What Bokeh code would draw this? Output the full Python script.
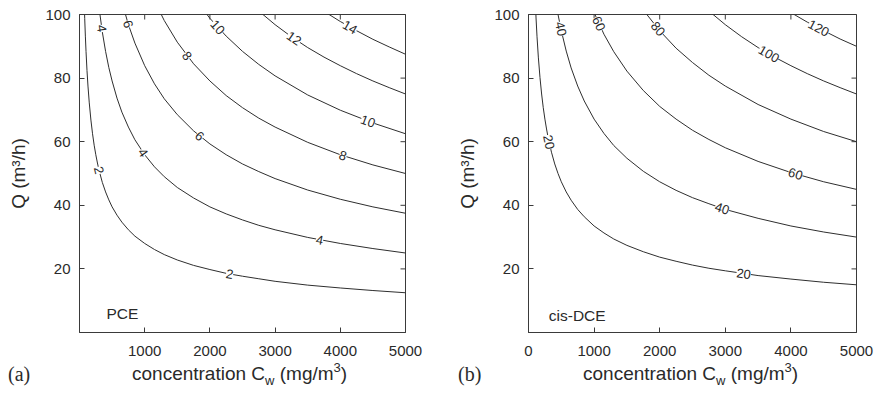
import math
from bokeh.plotting import figure
from bokeh.models import Range1d, FixedTicker, Label, Div
from bokeh.layouts import row, column
from bokeh.embed import file_html
from bokeh.resources import INLINE

# ---------------- data ----------------
# (a) PCE contour levels and digitised contour lines: C (mg/m3) -> Q (m3/h)
pce_levels = [2, 4, 6, 8, 10, 12, 14, 16]
pce_c2 = [60, 70, 80, 90, 100, 115, 130, 150, 175, 200, 225, 250, 275, 300, 350, 400, 450, 500, 575, 650,
          750, 850, 1000, 1150, 1300, 1500, 1750, 2000, 2250, 2500, 2750, 3000, 3500, 4000, 4500, 5000]
pce_q2 = [114.1, 105.6, 98.8, 93.2, 88.4, 82.4, 77.5, 72.2, 66.8, 62.5, 58.9, 55.9, 53.3, 51.0, 47.2, 44.2,
          41.7, 39.5, 36.9, 34.7, 32.3, 30.3, 28.0, 26.1, 24.5, 22.8, 21.1, 19.8, 18.6, 17.7, 16.9, 16.1,
          14.9, 14.0, 13.2, 12.5]
pce_c4 = [275, 300, 350, 400, 450, 500, 575, 650, 750, 850, 1000, 1150, 1300, 1500, 1750, 2000, 2250,
          2500, 2750, 3000, 3500, 4000, 4500, 5000]
pce_q4 = [106.6, 102.1, 94.5, 88.4, 83.3, 79.1, 73.7, 69.3, 64.6, 60.6, 55.9, 52.1, 49.0, 45.6, 42.3,
          39.5, 37.3, 35.4, 33.7, 32.3, 29.9, 28.0, 26.4, 25.0]
pce_c6 = [650, 750, 850, 1000, 1150, 1300, 1500, 1750, 2000, 2250, 2500, 2750, 3000, 3500, 4000, 4500, 5000]
pce_q6 = [104.0, 96.8, 91.0, 83.9, 78.2, 73.5, 68.5, 63.4, 59.3, 55.9, 53.0, 50.6, 48.4, 44.8, 41.9,
          39.5, 37.5]
pce_c8 = [1150, 1300, 1500, 1750, 2000, 2250, 2500, 2750, 3000, 3500, 4000, 4500, 5000]
pce_q8 = [104.3, 98.1, 91.3, 84.5, 79.1, 74.5, 70.7, 67.4, 64.6, 59.8, 55.9, 52.7, 50.0]
pce_c10 = [1750, 2000, 2250, 2500, 2750, 3000, 3500, 4000, 4500, 5000]
pce_q10 = [105.6, 98.8, 93.2, 88.4, 84.3, 80.7, 74.7, 69.9, 65.9, 62.5]
pce_c12 = [2500, 2750, 3000, 3250, 3500, 3750, 4000, 4250, 4500, 4750, 5000]
pce_q12 = [106.1, 101.1, 96.8, 93.0, 89.6, 86.6, 83.9, 81.4, 79.1, 77.0, 75.0]
pce_c14 = [3500, 3750, 4000, 4250, 4500, 4750, 5000]
pce_q14 = [104.6, 101.0, 97.8, 94.9, 92.2, 89.8, 87.5]
pce_c16 = [4750, 4900, 5000]
pce_q16 = [102.6, 101.0, 100.0]

pce_label_text = ["4", "6", "10", "8", "6", "4", "2", "12", "14", "10", "8", "4", "2"]
pce_label_c = [342, 747, 2119, 1650, 1842, 976, 300, 3290, 4150, 4424, 4041, 3682, 2303]
pce_label_q = [95.6, 97.0, 96.0, 87.0, 61.8, 56.6, 51.0, 92.5, 96.0, 66.4, 55.6, 29.1, 18.4]
pce_label_angle = [-81.7, -72.5, -47.9, -52.2, -39.3, -54.8, -76.5, -34.5, -29.5, -20.1, -18.6, -10.9, -11.0]

dce_levels = [20, 40, 60, 80, 100, 120]
dce_c20 = [100, 115, 130, 150, 175, 200, 225, 250, 275, 300, 350, 400, 450, 500, 575, 650, 750, 850,
           1000, 1150, 1300, 1500, 1750, 2000, 2250, 2500, 2750, 3000, 3500, 4000, 4500, 5000]
dce_q20 = [106.1, 98.9, 93.0, 86.6, 80.2, 75.0, 70.7, 67.1, 64.0, 61.2, 56.7, 53.0, 50.0, 47.4, 44.2,
           41.6, 38.7, 36.4, 33.5, 31.3, 29.4, 27.4, 25.4, 23.7, 22.4, 21.2, 20.2, 19.4, 17.9, 16.8,
           15.8, 15.0]
dce_c40 = [400, 450, 500, 575, 650, 750, 850, 1000, 1150, 1300, 1500, 1750, 2000, 2250, 2500, 2750,
           3000, 3500, 4000, 4500, 5000]
dce_q40 = [106.1, 100.0, 94.9, 88.5, 83.2, 77.5, 72.8, 67.1, 62.6, 58.8, 54.8, 50.7, 47.4, 44.7, 42.4,
           40.5, 38.7, 35.9, 33.5, 31.6, 30.0]
dce_c60 = [850, 1000, 1150, 1300, 1500, 1750, 2000, 2250, 2500, 2750, 3000, 3500, 4000, 4500, 5000]
dce_q60 = [109.1, 100.6, 93.8, 88.3, 82.2, 76.1, 71.1, 67.1, 63.6, 60.7, 58.1, 53.8, 50.3, 47.4, 45.0]
dce_c80 = [1500, 1750, 2000, 2250, 2500, 2750, 3000, 3500, 4000, 4500, 5000]
dce_q80 = [109.5, 101.4, 94.9, 89.4, 84.9, 80.9, 77.5, 71.7, 67.1, 63.2, 60.0]
dce_c100 = [2500, 2750, 3000, 3250, 3500, 3750, 4000, 4250, 4500, 4750, 5000]
dce_q100 = [106.1, 101.1, 96.8, 93.0, 89.6, 86.6, 83.9, 81.4, 79.1, 77.0, 75.0]
dce_c120 = [3500, 3750, 4000, 4250, 4500, 4750, 5000]
dce_q120 = [107.6, 103.9, 100.6, 97.6, 94.9, 92.3, 90.0]

dce_label_text = ["40", "60", "80", "20", "120", "100", "60", "40", "20"]
dce_label_c = [493, 1074, 1974, 313, 4425, 3663, 4070, 2952, 3281]
dce_label_q = [95.5, 97.1, 95.5, 59.9, 95.7, 87.6, 49.9, 39.0, 18.5]
dce_label_angle = [-78.0, -65.5, -49.5, -77.8, -27.7, -30.1, -16.6, -17.8, -7.8]

pce_xticks = [1000, 2000, 3000, 4000, 5000]
dce_xticks = [0, 1000, 2000, 3000, 4000, 5000]
yticks = [20, 40, 60, 80, 100]

# ---------------- styling ----------------
FONT = "Liberation Sans"
TXT = "#2a2a2a"
LINE = "#2e2e2e"
AX = "#3a3a3a"


def make_panel(width, bl, br, xticks, lines, labels, name, name_pos):
    p = figure(width=width, height=360,
               x_range=Range1d(0, 5000), y_range=Range1d(0, 100),
               output_backend="svg", toolbar_location=None,
               min_border_left=bl, min_border_right=br,
               min_border_top=14, min_border_bottom=28)
    p.grid.visible = False
    p.background_fill_color = "white"
    p.border_fill_color = "white"
    p.outline_line_color = AX
    p.outline_line_width = 1

    for ax, ticks in ((p.xaxis[0], xticks), (p.yaxis[0], yticks)):
        ax.ticker = FixedTicker(ticks=ticks)
        ax.major_tick_in = 5
        ax.major_tick_out = 0
        ax.minor_tick_line_color = None
        ax.major_tick_line_color = AX
        ax.axis_line_color = AX
        ax.major_label_text_font = FONT
        ax.major_label_text_font_size = "15px"
        ax.major_label_text_color = TXT
    p.xaxis.major_label_standoff = 13
    p.yaxis.major_label_standoff = 9
    p.yaxis.axis_label = "Q (m³/h)"
    p.yaxis.axis_label_text_font = FONT
    p.yaxis.axis_label_text_font_size = "19px"
    p.yaxis.axis_label_text_font_style = "normal"
    p.yaxis.axis_label_text_color = TXT
    p.yaxis.axis_label_standoff = 13

    # mirrored inward ticks on top and right (clipped to the frame)
    p.scatter(x=xticks, y=[100] * len(xticks), marker="dash", angle=math.pi / 2,
              size=10, line_color=AX, line_width=1)
    p.scatter(x=[5000] * len(yticks), y=yticks, marker="dash", size=10,
              line_color=AX, line_width=1)

    for cs, qs in lines:
        p.line(cs, qs, line_color=LINE, line_width=1)

    for t, c, q, a in zip(*labels):
        p.add_layout(Label(x=c, y=q, text=t, angle=math.radians(a),
                           text_align="center", text_baseline="middle",
                           text_font=FONT, text_font_size="13px", text_color=TXT,
                           background_fill_color="white", background_fill_alpha=1.0))

    p.add_layout(Label(x=name_pos[0], y=name_pos[1], text=name, text_font=FONT,
                       text_font_size="15.5px", text_color=TXT,
                       text_align="left", text_baseline="alphabetic"))
    return p


def title_div(width, tag, title_left, tag_left):
    html = (
        '<div style="position:relative;width:%dpx;height:31px;color:%s;">'
        '<span style="position:absolute;left:%dpx;top:4px;font-family:\'Liberation Serif\';'
        'font-size:20px;line-height:20px;white-space:nowrap;">%s</span>'
        '<span style="position:absolute;left:%dpx;top:4px;font-family:\'Liberation Sans\';'
        'font-size:19px;line-height:20px;white-space:nowrap;">concentration C'
        '<span style="font-size:13px;position:relative;top:5px;">w</span>'
        ' (mg/m<span style="font-size:13px;position:relative;top:-8px;">3</span>)</span>'
        '</div>' % (width, TXT, tag_left, tag, title_left)
    )
    return Div(text=html, width=width, height=31, margin=(0, 0, 0, 0))


pce_lines = [(pce_c2, pce_q2), (pce_c4, pce_q4), (pce_c6, pce_q6), (pce_c8, pce_q8),
             (pce_c10, pce_q10), (pce_c12, pce_q12), (pce_c14, pce_q14), (pce_c16, pce_q16)]
dce_lines = [(dce_c20, dce_q20), (dce_c40, dce_q40), (dce_c60, dce_q60), (dce_c80, dce_q80),
             (dce_c100, dce_q100), (dce_c120, dce_q120)]

p1 = make_panel(449, 79, 44, pce_xticks, pce_lines,
                (pce_label_text, pce_label_c, pce_label_q, pce_label_angle),
                "PCE", (414, 6.0))
p2 = make_panel(426, 79, 19, dce_xticks, dce_lines,
                (dce_label_text, dce_label_c, dce_label_q, dce_label_angle),
                "cis-DCE", (309, 5.4))

d1 = title_div(449, "(a)", 132, 8)
d2 = title_div(426, "(b)", 134, 9)

layout = column(row(p1, p2), row(d1, d2))
open("out.html", "w").write(file_html(layout, INLINE))
